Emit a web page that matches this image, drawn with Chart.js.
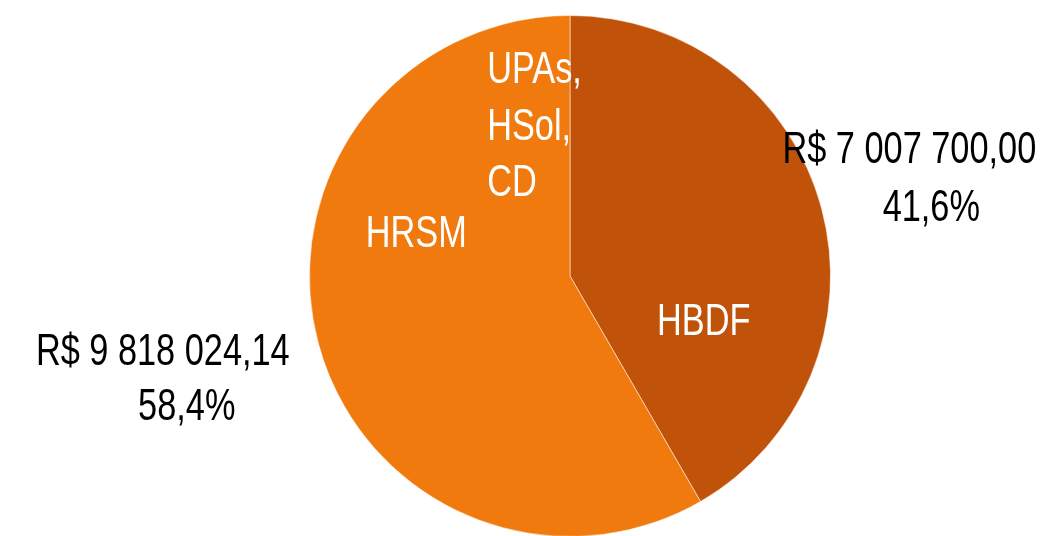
<!DOCTYPE html>
<html>
<head>
<meta charset="utf-8">
<script src="https://cdn.jsdelivr.net/npm/chart.js@4"></script>
<style>
  html, body { margin: 0; padding: 0; background: #fff; overflow: hidden; }
  #wrap { position: absolute; left: 0; top: 0; width: 1048px; height: 537px; }
</style>
</head>
<body>
<div id="wrap"><canvas id="pieChart"></canvas></div>
<script>
// Dados: custo por unidade (R$)
var unidades = ['HBDF', 'HRSM, UPAs, HSol, CD'];
var valores = [7007700.00, 9818024.14];
var cores = ['#C0520A', '#F07A0E'];
var rotulosValor = ['R$ 7 007 700,00', 'R$ 9 818 024,14'];
var rotulosPct = ['41,6%', '58,4%'];

// texto condensado (fonte tipo Myriad Condensed)
function texto(ctx, t, x, y, align) {
  ctx.save();
  ctx.translate(x, y);
  ctx.scale(0.78, 1);
  ctx.textAlign = align;
  ctx.fillText(t, 0, 0);
  ctx.restore();
}

var rotulos = {
  id: 'rotulos',
  afterDatasetsDraw: function (chart) {
    var arc = chart.getDatasetMeta(0).data[0];
    var cx = arc.x, cy = arc.y, k = arc.outerRadius / 261;
    var ctx = chart.ctx;
    ctx.save();
    ctx.font = '44px "Liberation Sans", Arial, sans-serif';
    ctx.textBaseline = 'alphabetic';

    // dentro das fatias
    ctx.fillStyle = '#ffffff';
    texto(ctx, 'HBDF', cx + 134 * k, cy + 59 * k, 'center');
    texto(ctx, 'HRSM', cx - 154 * k, cy - 29 * k, 'center');
    texto(ctx, 'UPAs,', cx - 83 * k, cy - 193 * k, 'left');
    texto(ctx, 'HSol,', cx - 83 * k, cy - 136 * k, 'left');
    texto(ctx, 'CD', cx - 83 * k, cy - 80 * k, 'left');

    // fora: valor e percentual
    ctx.fillStyle = '#000000';
    texto(ctx, rotulosValor[0], cx + 340 * k, cy - 113 * k, 'center');
    texto(ctx, rotulosPct[0], cx + 362 * k, cy - 55 * k, 'center');
    texto(ctx, rotulosValor[1], cx - 408 * k, cy + 89 * k, 'center');
    texto(ctx, rotulosPct[1], cx - 384 * k, cy + 144 * k, 'center');
    ctx.restore();
  }
};

var ctx = document.getElementById('pieChart').getContext('2d');
var pieChart = new Chart(ctx, {
  type: 'pie',
  data: {
    labels: unidades,
    datasets: [{
      data: valores,
      backgroundColor: cores,
      borderColor: 'rgba(255,255,255,0.5)',
      borderWidth: 1
    }]
  },
  options: {
    responsive: true,
    maintainAspectRatio: false,
    animation: false,
    layout: { padding: { top: 15, left: 92 } },
    plugins: {
      legend: { display: false },
      tooltip: { enabled: false }
    }
  },
  plugins: [rotulos]
});
</script>
</body>
</html>
